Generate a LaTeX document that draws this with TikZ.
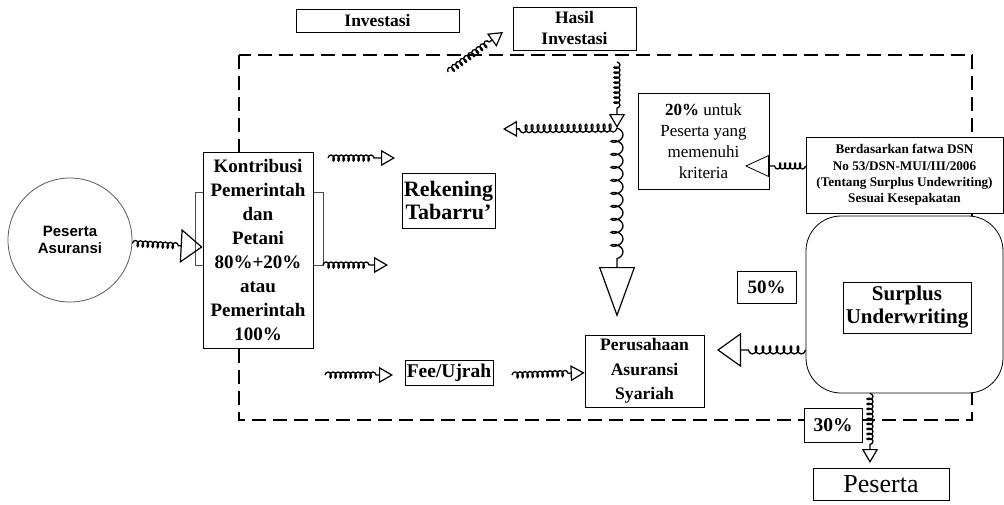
\documentclass[tikz,border=0pt]{standalone}
\usepackage{fontspec}
\setmainfont{Liberation Serif}
\newfontfamily\arialfont{Liberation Sans}
\usetikzlibrary{arrows.meta,decorations.pathmorphing}

\begin{document}
\begin{tikzpicture}[x=1pt,y=-1pt,
    box/.style={draw, fill=white, inner sep=0pt, align=center, line width=0.8pt},
    coilarrow/.style={decorate, decoration={coil, aspect=0.6, amplitude=3pt, segment length=5pt, post length=16pt},
      line width=1.3pt, -{Triangle[open, length=14pt, width=16pt, line width=1.2pt]}},
  ]
  \useasboundingbox (0,0) rectangle (1004,504);

  % dashed frame and the box behind the contribution
  \draw[line width=1.8pt, dash pattern=on 14pt off 7pt] (239,55) rectangle (972,420);
  \draw[gray!60!black, line width=0.6pt] (195,192) rectangle (323,265);

  \node[box, circle, draw=gray!70!black, minimum size=124pt, font=\arialfont\bfseries\fontsize{15}{17}\selectfont] (circ) at (70,240) {Peserta\\Asuransi};
  \node[box, minimum width=110pt, minimum height=196pt, font=\bfseries\fontsize{19}{24}\selectfont] (kontrib) at (258,250)
    {Kontribusi\\Pemerintah\\dan\\Petani\\80\%+20\%\\atau\\Pemerintah\\100\%};
  \node[box, minimum width=163pt, minimum height=23pt, font=\bfseries\fontsize{17.5}{20}\selectfont] (invest) at (377.5,20.5) {Investasi};
  \node[box, minimum width=123pt, minimum height=43pt, font=\bfseries\fontsize{17.5}{21}\selectfont] (hasil) at (574.5,28.5) {Hasil\\Investasi};
  \node[box, minimum width=93pt, minimum height=55pt, font=\bfseries\fontsize{22}{23}\selectfont] (rekening) at (448.5,200.5) {Rekening\\Tabarru’};
  \node[box, minimum width=131pt, minimum height=96pt, font=\fontsize{17}{21}\selectfont] (kriteria) at (703.5,141)
    {\textbf{20\%} untuk\\Peserta yang\\memenuhi\\kriteria};
  \node[box, minimum width=197pt, minimum height=76pt, font=\bfseries\fontsize{13.2}{16.3}\selectfont] (fatwa) at (904.5,175)
    {Berdasarkan fatwa DSN\\No 53/DSN-MUI/III/2006\\(Tentang Surplus Undewriting)\\Sesuai Kesepakatan};
  \node[box, rounded corners=35pt, minimum width=197pt, minimum height=177pt] (surbg) at (904.5,304.5) {};
  \node[box, minimum width=128pt, minimum height=51pt, font=\bfseries\fontsize{21}{23}\selectfont] (surplus) at (907,307.5) {Surplus\\Underwriting};
  \node[box, minimum width=59pt, minimum height=32pt, font=\bfseries\fontsize{19}{21}\selectfont] (p50) at (766.5,287) {50\%};
  \node[box, minimum width=58pt, minimum height=34pt, font=\bfseries\fontsize{19.5}{21}\selectfont] (p30) at (833,425) {30\%};
  \node[box, minimum width=136pt, minimum height=32pt, font=\fontsize{26}{28}\selectfont] (peserta) at (881,484) {Peserta};
  \node[box, minimum width=119pt, minimum height=72pt, font=\bfseries\fontsize{17.6}{24.5}\selectfont] (perus) at (644.5,371)
    {Perusahaan\\Asuransi\\Syariah};
  \node[box, minimum width=88pt, minimum height=25pt, font=\bfseries\fontsize{19.5}{21}\selectfont] (fee) at (449,372.5) {Fee/Ujrah};

  % free ends of the connectors
  \coordinate (r1) at (328,158);
  \coordinate (r1e) at (395,158);
  \coordinate (r2) at (323,265);
  \coordinate (r2e) at (388,265);
  \coordinate (r3) at (325,375);
  \coordinate (r3e) at (393,375);
  \coordinate (fs) at (512,375);
  \coordinate (ia) at (448,72);
  \coordinate (iae) at (503,32);
  \coordinate (hs) at (617,62);
  \coordinate (jn) at (617,128);
  \coordinate (jl) at (503,129);
  \coordinate (jd) at (617,317);
  \coordinate (kt) at (745,166);
  \coordinate (sp) at (717,350);
  \coordinate (pd) at (870,463);

  \draw[coilarrow, decoration={post length=24pt}, -{Triangle[open, length=22pt, width=34pt, line width=1.2pt]}] (circ) -- (kontrib);
  \draw[coilarrow] (r1) -- (r1e);
  \draw[coilarrow] (r2) -- (r2e);
  \draw[coilarrow] (r3) -- (r3e);
  \draw[coilarrow] (fs) -- (perus);
  \draw[coilarrow] (ia) -- (iae);
  \draw[coilarrow] (hs) -- (jn);
  \draw[coilarrow, decoration={amplitude=4pt, segment length=6pt}] (jn) -- (jl);
  \draw[coilarrow, decoration={amplitude=6pt, segment length=13pt, post length=52pt}, -{Triangle[open, length=50pt, width=36pt, line width=1.2pt]}] (jn) -- (jd);
  \draw[coilarrow, decoration={post length=26pt}, -{Triangle[open, length=24pt, width=22pt, line width=0.8pt]}] (fatwa.west |- kt) -- (kt);
  \draw[coilarrow, decoration={amplitude=4pt, segment length=7pt, post length=26pt}, -{Triangle[open, length=24pt, width=34pt, line width=1.2pt]}] (surbg.west |- sp) -- (sp);
  \draw[coilarrow] (surbg.south -| pd) -- (pd);
\end{tikzpicture}
\end{document}
